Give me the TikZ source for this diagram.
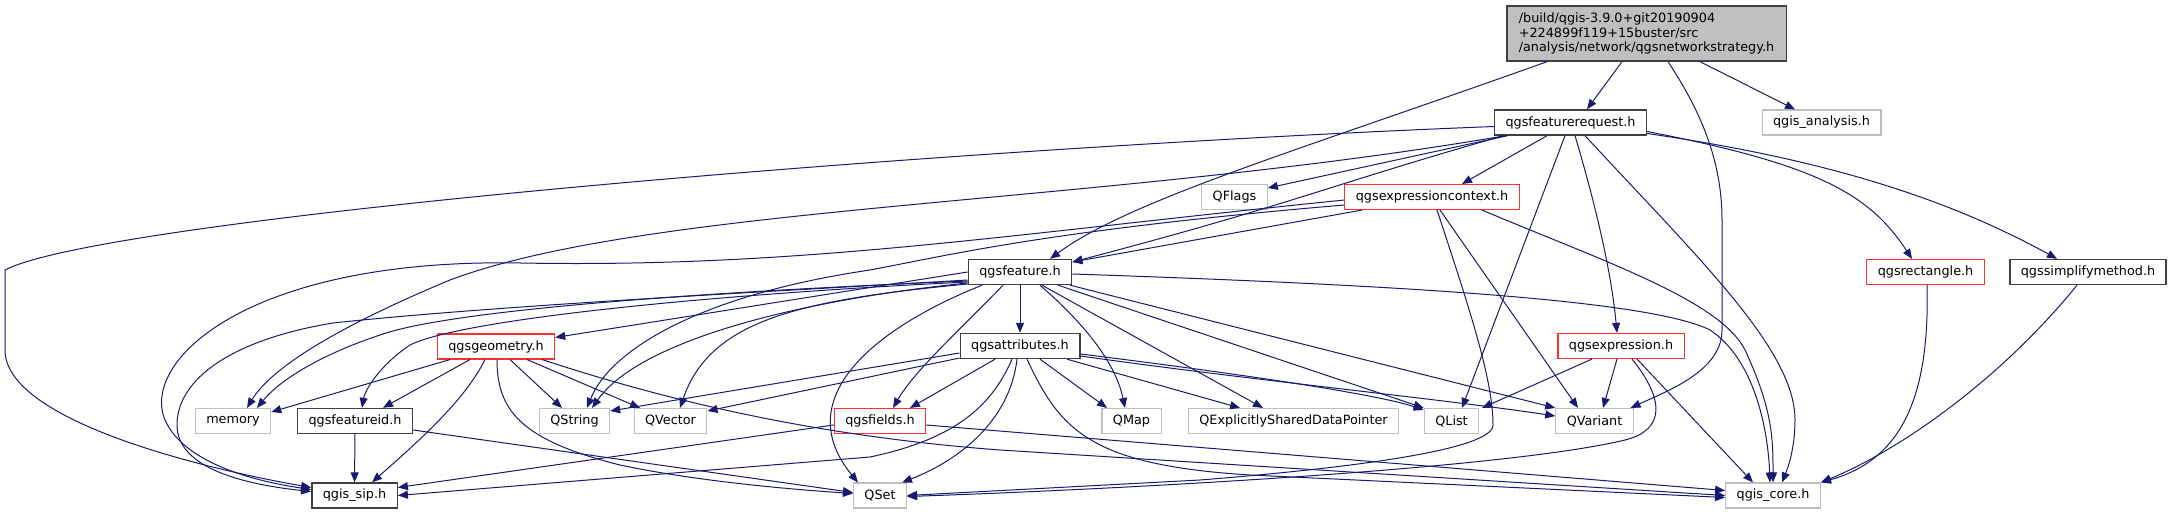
\documentclass[tikz,border=0pt]{standalone}
\usepackage{fontspec}
\setmainfont{DejaVu Sans}
\usetikzlibrary{arrows.meta}
\definecolor{edgeblue}{HTML}{191970}
\definecolor{boxgray}{HTML}{BFBFBF}
\definecolor{boxdark}{HTML}{404040}
\definecolor{truncred}{HTML}{FF3030}

\begin{document}
\begin{tikzpicture}[x=1bp, y=-1bp,
        every node/.style={font=\fontsize{12.8bp}{14.5bp}\selectfont},
        box/.style={rectangle, fill=white, minimum height=25bp, inner xsep=11bp, inner ysep=0pt},
        filebox/.style={box, draw=boxdark, line width=1.4bp},
        sysbox/.style={box, draw=boxgray, line width=1.1bp},
        truncbox/.style={box, draw=truncred, line width=1.1bp},
        rootbox/.style={box, fill=boxgray, draw=boxdark, line width=1.4bp, align=left, minimum height=55bp, inner xsep=12bp},
        edge/.style={draw=edgeblue, line width=1bp, -{Triangle[length=10bp, width=8bp]}}
      ]
        \useasboundingbox (0,0) rectangle (2173,515);
        % nodes, row by row
        \node[rootbox] (strategy) at (1646.5,33.5) {/build/qgis-3.9.0+git20190904\\+224899f119+15buster/src\\/analysis/network/qgsnetworkstrategy.h};
        \node[filebox] (featurerequest) at (1570.5,122.5) {qgsfeaturerequest.h};
        \node[sysbox] (analysis) at (1821.5,122.5) {qgis\_analysis.h};
        \node[sysbox] (qflags) at (1234.5,197) {QFlags};
        \node[truncbox] (exprcontext) at (1432,197) {qgsexpressioncontext.h};
        \node[filebox] (feature) at (1020,272) {qgsfeature.h};
        \node[truncbox] (rectangle) at (1925.5,272) {qgsrectangle.h};
        \node[filebox] (simplifymethod) at (2088,272) {qgssimplifymethod.h};
        \node[truncbox] (geometry) at (496,346.5) {qgsgeometry.h};
        \node[filebox] (attributes) at (1020,346) {qgsattributes.h};
        \node[truncbox] (expression) at (1621,346) {qgsexpression.h};
        \node[sysbox] (memory) at (233,421) {memory};
        \node[filebox] (featureid) at (355,421) {qgsfeatureid.h};
        \node[sysbox] (qstring) at (574.5,421) {QString};
        \node[sysbox] (qvector) at (670.5,421) {QVector};
        \node[truncbox] (fields) at (880,421) {qgsfields.h};
        \node[sysbox] (qmap) at (1131.5,421) {QMap};
        \node[sysbox] (qesdp) at (1293.5,421) {QExplicitlySharedDataPointer};
        \node[sysbox] (qlist) at (1451.5,421) {QList};
        \node[sysbox] (qvariant) at (1594.5,421) {QVariant};
        \node[filebox] (sip) at (354.5,495.5) {qgis\_sip.h};
        \node[sysbox] (qset) at (880,495.5) {QSet};
        \node[sysbox] (core) at (1773,495.5) {qgis\_core.h};

        % qgsnetworkstrategy.h
        \draw[edge] ([xshift=-99.5bp]strategy.south) .. controls (1300,150) and (1130,200) .. ([xshift=30bp]feature.north);
        \draw[edge] ([xshift=-24.5bp]strategy.south) -- ([xshift=16.5bp]featurerequest.north);
        \draw[edge] ([xshift=21.5bp]strategy.south) .. controls (1700,110) and (1722,160) .. (1722,220) -- (1722,330) .. controls (1722,370) and (1670,390) .. ([xshift=36bp]qvariant.north);
        \draw[edge] ([xshift=53.5bp]strategy.south) -- ([xshift=-26.5bp]analysis.north);

        % qgsfeaturerequest.h
        \draw[edge] ([yshift=-4bp]featurerequest.west) .. controls (900,150) and (100,220) .. (5,270) -- (5,350) .. controls (5,420) and (200,468) .. ([yshift=8bp]sip.west);
        \draw[edge] ([xshift=-65bp]featurerequest.south) .. controls (1100,205) and (650,205) .. (450,280) .. controls (330,330) and (270,370) .. ([xshift=14bp]memory.north);
        \draw[edge] ([xshift=-63bp]featurerequest.south) -- ([yshift=9bp]qflags.east);
        \draw[edge] ([xshift=-67bp]featurerequest.south) .. controls (1330,185) and (1290,205) .. ([yshift=10bp]feature.east);
        \draw[edge] ([xshift=-23.5bp]featurerequest.south) -- ([xshift=30bp]exprcontext.north);
        \draw[edge] ([xshift=-5.5bp]featurerequest.south) -- ([xshift=10.5bp]qlist.north);
        \draw[edge] ([xshift=4.5bp]featurerequest.south) .. controls (1600,220) and (1612,280) .. ([xshift=-4bp]expression.north);
        \draw[edge] ([xshift=14.5bp]featurerequest.south) .. controls (1700,260) and (1795,350) .. (1795,420) .. controls (1795,450) and (1787,470) .. ([xshift=9bp]core.north);
        \draw[edge] ([yshift=-9bp]featurerequest.east) .. controls (1820,165) and (1870,195) .. ([xshift=-13.5bp]rectangle.north);
        \draw[edge] ([yshift=-11bp]featurerequest.east) .. controls (1830,160) and (1950,200) .. ([xshift=-31bp]simplifymethod.north);

        % qgsexpressioncontext.h
        \draw[edge] ([xshift=-70bp]exprcontext.south) -- ([yshift=10bp]feature.east);
        \draw[edge] ([yshift=-3bp]exprcontext.west) .. controls (1000,235) and (800,268) .. (520,263) .. controls (250,258) and (140,360) .. (165,420) .. controls (185,465) and (260,482) .. ([yshift=6bp]sip.west);
        \draw[edge] ([yshift=-8bp]exprcontext.west) .. controls (1050,230) and (950,255) .. (870,270) .. controls (700,295) and (610,350) .. ([xshift=12.5bp]qstring.north);
        \draw[edge] ([xshift=5bp]exprcontext.south) .. controls (1470,310) and (1493,380) .. (1493,425) .. controls (1493,450) and (1350,468) .. (1200,480) -- (qset.east);
        \draw[edge] ([xshift=8bp]exprcontext.south) -- ([xshift=-16.5bp]qvariant.north);
        \draw[edge] ([xshift=50bp]exprcontext.south) .. controls (1600,260) and (1720,300) .. (1745,350) .. controls (1773,410) and (1773,440) .. (core.north);

        % qgsexpression.h
        \draw[edge] ([xshift=-29bp]expression.south) -- ([xshift=30.5bp]qlist.north);
        \draw[edge] ([xshift=-4bp]expression.south) -- ([xshift=8.5bp]qvariant.north);
        \draw[edge] ([xshift=11bp]expression.south) .. controls (1665,400) and (1665,430) .. (1625,440) .. controls (1500,470) and (1100,490) .. ([yshift=-1bp]qset.east);
        \draw[edge] ([xshift=16bp]expression.south) -- ([xshift=-20bp]core.north);

        % qgsfeature.h
        \draw[edge] (feature.west) -- ([yshift=9bp]geometry.east);
        \draw[edge] ([yshift=-8bp]feature.west) .. controls (800,290) and (500,305) .. (333,323) .. controls (230,340) and (177,380) .. (177,425) .. controls (177,470) and (250,485) .. ([yshift=4bp]sip.west);
        \draw[edge] ([yshift=-9bp]feature.west) .. controls (700,292) and (450,310) .. (380,335) .. controls (320,355) and (280,380) .. ([xshift=24bp]memory.north);
        \draw[edge] ([yshift=-10bp]feature.west) .. controls (700,295) and (460,320) .. (410,345) .. controls (380,365) and (365,390) .. ([xshift=7bp]featureid.north);
        \draw[edge] ([yshift=-11bp]feature.west) .. controls (800,300) and (640,340) .. ([xshift=17.5bp]qstring.north);
        \draw[edge] ([yshift=-12bp]feature.west) .. controls (800,300) and (710,320) .. ([xshift=9.5bp]qvector.north);
        \draw[edge] ([xshift=-38bp]feature.south) .. controls (870,330) and (790,400) .. ([xshift=-22bp]qset.north);
        \draw[edge] ([xshift=-17bp]feature.south) .. controls (960,330) and (915,370) .. ([xshift=13bp]fields.north);
        \draw[edge] (feature) -- (attributes);
        \draw[edge] ([xshift=20bp]feature.south) .. controls (1080,320) and (1115,360) .. ([xshift=-6.5bp]qmap.north);
        \draw[edge] ([xshift=22bp]feature.south) -- ([xshift=-30.5bp]qesdp.north);
        \draw[edge] ([xshift=38bp]feature.south) -- (qlist.north west);
        \draw[edge] ([xshift=50bp]feature.south) -- (qvariant.north west);
        \draw[edge] ([yshift=-2bp]feature.east) .. controls (1400,285) and (1650,300) .. (1710,330) .. controls (1755,360) and (1768,430) .. ([xshift=-3bp]core.north);

        % qgsattributes.h
        \draw[edge] ([xshift=-25bp]attributes.south) -- ([xshift=30bp]fields.north);
        \draw[edge] ([xshift=20bp]attributes.south) -- ([xshift=-24.5bp]qmap.north);
        \draw[edge] ([xshift=47bp]attributes.south) -- ([xshift=-53.5bp]qesdp.north);
        \draw[edge] ([yshift=-8bp]attributes.east) .. controls (1250,375) and (1380,395) .. ([yshift=11bp]qlist.west);
        \draw[edge] ([yshift=-10bp]attributes.east) .. controls (1250,380) and (1450,400) .. ([yshift=5bp]qvariant.west);
        \draw[edge] ([yshift=-7bp]attributes.west) -- ([yshift=10bp]qstring.east);
        \draw[edge] ([yshift=-12bp]attributes.west) -- ([yshift=10bp]qvector.east);
        \draw[edge] ([xshift=-8bp]attributes.south) .. controls (990,410) and (950,440) .. (870,457) -- (sip.east);
        \draw[edge] ([xshift=-3bp]attributes.south) .. controls (1010,420) and (960,460) .. ([xshift=22bp]qset.north);
        \draw[edge] ([xshift=7bp]attributes.south) .. controls (1060,430) and (1090,465) .. (1250,475) -- ([yshift=-2bp]core.west);

        % qgsgeometry.h
        \draw[edge] ([xshift=-46bp]geometry.south) -- ([yshift=9bp]memory.east);
        \draw[edge] ([xshift=-26bp]geometry.south) -- ([xshift=28bp]featureid.north);
        \draw[edge] ([xshift=-11bp]geometry.south) .. controls (465,400) and (420,440) .. ([xshift=17.5bp]sip.north);
        \draw[edge] ([xshift=1bp]geometry.south) .. controls (497,410) and (520,440) .. (620,465) .. controls (700,482) and (800,490) .. ([yshift=2bp]qset.west);
        \draw[edge] ([xshift=14bp]geometry.south) -- ([xshift=-12.5bp]qstring.north);
        \draw[edge] ([xshift=31bp]geometry.south) -- ([xshift=-30.5bp]qvector.north);
        \draw[edge] ([xshift=46bp]geometry.south) .. controls (650,395) and (800,435) .. (1000,450) -- (core.west);

        % qgsfeatureid.h, qgsfields.h
        \draw[edge] (featureid) -- (sip);
        \draw[edge] ([yshift=-9bp]featureid.east) -- ([yshift=3bp]qset.west);
        \draw[edge] ([yshift=-4bp]fields.west) -- ([yshift=8bp]sip.east);
        \draw[edge] ([yshift=-4bp]fields.east) -- ([yshift=5bp]core.west);

        % qgsrectangle.h, qgssimplifymethod.h
        \draw[edge] ([xshift=1.5bp]rectangle.south) .. controls (1930,400) and (1900,460) .. (core.north east);
        \draw[edge] ([xshift=-11bp]simplifymethod.south) .. controls (2000,380) and (1900,450) .. (core.north east);
      \end{tikzpicture}
\end{document}
